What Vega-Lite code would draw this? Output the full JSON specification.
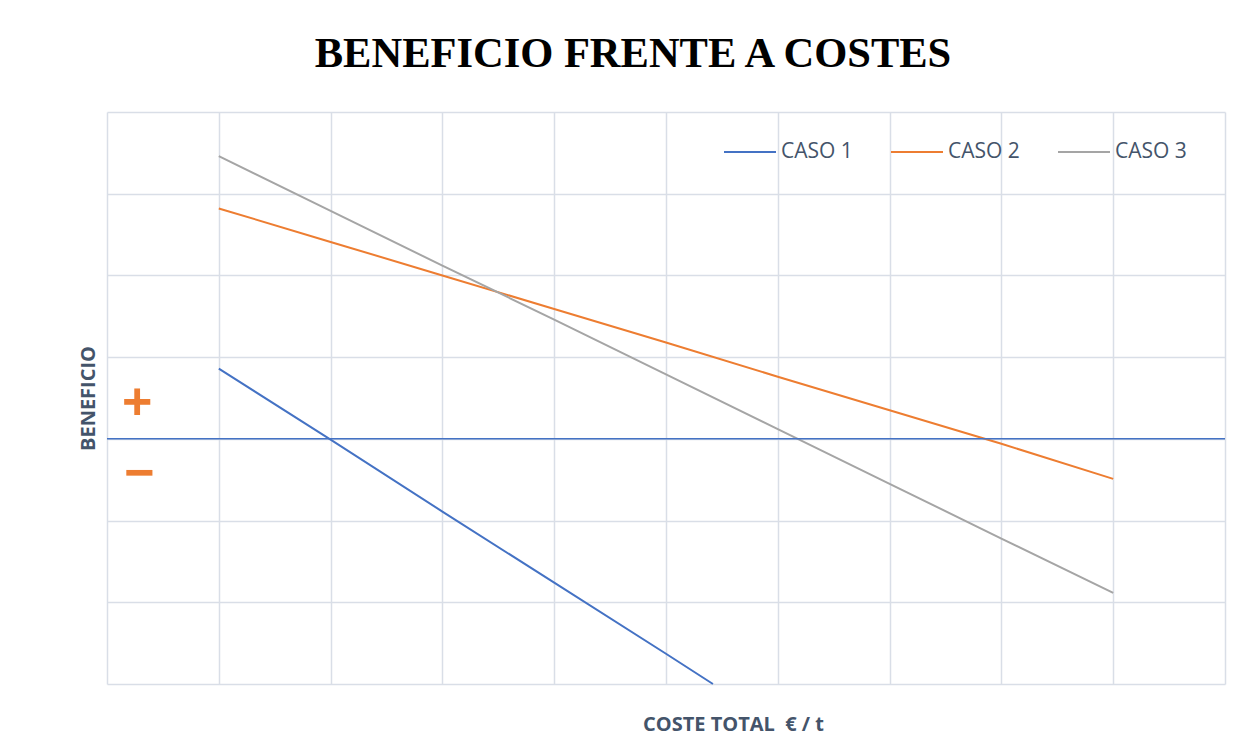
{
  "$schema": "https://vega.github.io/schema/vega-lite/v6.json",
  "width": 1118,
  "height": 572,
  "autosize": {"type": "none"},
  "padding": {"left": 107, "top": 112, "right": 34, "bottom": 63},
  "background": "white",
  "title": {
    "text": "BENEFICIO FRENTE A COSTES",
    "font": "Liberation Serif",
    "fontSize": 42.5,
    "fontWeight": "bold",
    "color": "#000000",
    "anchor": "middle",
    "dx": -33,
    "offset": 37
  },
  "config": {
    "view": {"stroke": null},
    "axis": {
      "gridColor": "#D9DEE7",
      "gridWidth": 1.5,
      "gridOpacity": 1,
      "labels": false,
      "ticks": false,
      "domain": false,
      "titleFont": "Open Sans",
      "titleFontWeight": "bold",
      "titleFontSize": 20,
      "titleColor": "#44546A"
    }
  },
  "layer": [
    {
      "data": {
        "values": [
          {"coste": 1, "beneficio": 0.86, "caso": "CASO 1"},
          {"coste": 2, "beneficio": -0.01, "caso": "CASO 1"},
          {"coste": 3, "beneficio": -0.89, "caso": "CASO 1"},
          {"coste": 4, "beneficio": -1.76, "caso": "CASO 1"},
          {"coste": 5, "beneficio": -2.63, "caso": "CASO 1"},
          {"coste": 5.42, "beneficio": -3.0, "caso": "CASO 1"},
          {"coste": 1, "beneficio": 2.82, "caso": "CASO 2"},
          {"coste": 2, "beneficio": 2.41, "caso": "CASO 2"},
          {"coste": 3, "beneficio": 2.0, "caso": "CASO 2"},
          {"coste": 4, "beneficio": 1.59, "caso": "CASO 2"},
          {"coste": 5, "beneficio": 1.18, "caso": "CASO 2"},
          {"coste": 6, "beneficio": 0.76, "caso": "CASO 2"},
          {"coste": 7, "beneficio": 0.35, "caso": "CASO 2"},
          {"coste": 8, "beneficio": -0.06, "caso": "CASO 2"},
          {"coste": 9, "beneficio": -0.49, "caso": "CASO 2"},
          {"coste": 1, "beneficio": 3.46, "caso": "CASO 3"},
          {"coste": 2, "beneficio": 2.79, "caso": "CASO 3"},
          {"coste": 3, "beneficio": 2.12, "caso": "CASO 3"},
          {"coste": 4, "beneficio": 1.46, "caso": "CASO 3"},
          {"coste": 5, "beneficio": 0.79, "caso": "CASO 3"},
          {"coste": 6, "beneficio": 0.12, "caso": "CASO 3"},
          {"coste": 7, "beneficio": -0.55, "caso": "CASO 3"},
          {"coste": 8, "beneficio": -1.22, "caso": "CASO 3"},
          {"coste": 9, "beneficio": -1.885, "caso": "CASO 3"}
        ]
      },
      "mark": {"type": "line", "strokeWidth": 2},
      "encoding": {
        "x": {
          "field": "coste",
          "type": "quantitative",
          "title": "COSTE TOTAL\u00a0 € / t",
          "scale": {"domain": [0, 10], "nice": false, "zero": false},
          "axis": {
            "values": [0, 1, 2, 3, 4, 5, 6, 7, 8, 9, 10],
            "titleX": 626,
            "titleY": 40,
            "titleBaseline": "middle",
            "titleAnchor": "start",
            "titleAlign": "center"
          }
        },
        "y": {
          "field": "beneficio",
          "type": "quantitative",
          "title": "BENEFICIO",
          "scale": {"domain": [-3, 4], "nice": false, "zero": false},
          "axis": {
            "values": [-3, -2, -1, 0, 1, 2, 3, 4],
            "titlePadding": 9
          }
        },
        "color": {
          "field": "caso",
          "type": "nominal",
          "scale": {
            "domain": ["CASO 1", "CASO 2", "CASO 3"],
            "range": ["#4472C4", "#ED7D31", "#A5A5A5"]
          },
          "legend": {
            "title": null,
            "orient": "none",
            "direction": "horizontal",
            "legendX": 616,
            "legendY": 13,
            "padding": 0,
            "symbolType": "stroke",
            "symbolSize": 2704,
            "symbolStrokeWidth": 2,
            "labelFont": "Open Sans",
            "labelFontSize": 21,
            "labelColor": "#44546A",
            "labelOffset": 4,
            "columnPadding": 34
          }
        }
      }
    },
    {
      "data": {"values": [{"nivel": 0}]},
      "mark": {"type": "rule", "color": "#4472C4", "strokeWidth": 1.5},
      "encoding": {"y": {"field": "nivel", "type": "quantitative", "title": "BENEFICIO"}}
    },
    {
      "data": {
        "values": [
          {"coste": 0.27, "beneficio": 0.44, "signo": "+"},
          {"coste": 0.29, "beneficio": -0.43, "signo": "−"}
        ]
      },
      "mark": {
        "type": "text",
        "font": "Liberation Sans",
        "fontWeight": "bold",
        "fontSize": 52,
        "color": "#ED7D31",
        "baseline": "middle",
        "align": "center"
      },
      "encoding": {
        "x": {"field": "coste", "type": "quantitative", "title": "COSTE TOTAL\u00a0 € / t"},
        "y": {"field": "beneficio", "type": "quantitative", "title": "BENEFICIO"},
        "text": {"field": "signo"}
      }
    }
  ]
}
